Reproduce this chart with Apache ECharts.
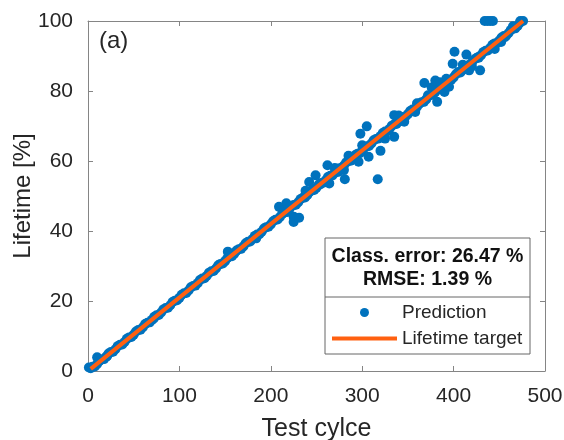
<!DOCTYPE html>
<html>
<head>
<meta charset="utf-8">
<script src="https://cdn.jsdelivr.net/npm/echarts@6/dist/echarts.min.js"></script>
<style>
  html, body { margin: 0; padding: 0; background: #fff; }
  #chart { width: 564px; height: 440px; }
</style>
</head>
<body>
<div id="chart"></div>
<script>
// 测试循环 / 预测寿命 (沿目标线的点)
var cycles = [1, 3, 5, 10, 15, 20, 25, 30, 35, 40, 45, 50, 55, 60, 65, 70, 75, 80, 85, 90, 95,
  100, 105, 110, 115, 120, 125, 130, 135, 140, 145, 150, 155, 160, 165, 170, 175, 180, 185, 190, 195,
  200, 205, 210, 215, 220, 225, 230, 235, 240, 245, 250, 255, 260, 265, 270, 275, 280, 285, 290, 295,
  300, 305, 310, 315, 320, 325, 330, 335, 340, 345, 350, 355, 360, 365, 370, 375, 380, 385, 390, 395,
  400, 405, 410, 415, 420, 425, 430, 435, 440, 445, 450, 455, 460, 465, 470, 473, 476];
var predicted = [1.0, 0.8, 1.2, 2.0, 3.3, 4.1, 5.4, 6.2, 7.5, 8.3, 9.6, 10.4, 11.7, 12.5, 13.8, 14.6, 15.9, 16.7, 18.0, 18.8, 20.1,
  20.9, 22.2, 23.0, 24.3, 25.1, 26.4, 27.2, 28.5, 29.3, 30.6, 31.4, 32.7, 33.5, 34.8, 35.6, 36.9, 37.7, 39.0, 39.8, 41.1,
  41.9, 43.2, 44.0, 45.3, 46.1, 47.4, 48.2, 49.5, 50.3, 51.6, 52.4, 53.7, 54.5, 55.8, 56.6, 57.9, 58.7, 60.0, 60.8, 62.1,
  62.9, 64.2, 65.0, 66.3, 67.1, 68.4, 69.2, 70.5, 71.3, 72.6, 73.4, 74.7, 75.5, 76.8, 77.6, 78.9, 79.7, 81.0, 81.8, 83.1,
  83.9, 85.2, 86.0, 87.3, 88.1, 89.4, 90.2, 91.5, 92.3, 93.6, 94.4, 95.7, 96.5, 97.8, 98.6, 100, 100];

// 中间的点
var midCycles = [7.5, 12.5, 17.5, 22.5, 27.5, 32.5, 37.5, 42.5, 47.5, 52.5, 57.5, 62.5, 67.5, 72.5, 77.5, 82.5, 87.5, 92.5, 97.5,
  102.5, 107.5, 112.5, 117.5, 122.5, 127.5, 132.5, 137.5, 142.5, 147.5, 152.5, 157.5, 162.5, 167.5, 172.5, 177.5, 182.5, 187.5, 192.5, 197.5,
  202.5, 207.5, 212.5, 217.5, 222.5, 227.5, 232.5, 237.5, 242.5, 247.5, 252.5, 257.5, 262.5, 267.5, 272.5, 277.5, 282.5, 287.5, 292.5, 297.5,
  302.5, 307.5, 312.5, 317.5, 322.5, 327.5, 332.5, 337.5, 342.5, 347.5, 352.5, 357.5, 362.5, 367.5, 372.5, 377.5, 382.5, 387.5, 392.5, 397.5,
  402.5, 407.5, 412.5, 417.5, 422.5, 427.5, 432.5, 437.5, 442.5, 447.5, 452.5, 457.5, 462.5, 467.5, 472.5];
var midPredicted = [1.3, 2.9, 3.4, 5.0, 5.5, 7.1, 7.6, 9.2, 9.7, 11.3, 11.8, 13.4, 13.9, 15.5, 16.0, 17.6, 18.1, 19.7, 20.2,
  21.8, 22.3, 23.9, 24.4, 26.0, 26.5, 28.1, 28.6, 30.2, 30.7, 32.3, 32.8, 34.4, 34.9, 36.5, 37.0, 38.6, 39.1, 40.7, 41.2,
  42.8, 43.3, 44.9, 45.4, 47.0, 47.5, 49.1, 49.6, 51.2, 51.7, 53.3, 53.8, 55.4, 55.9, 57.5, 58.0, 59.6, 60.1, 61.7, 62.2,
  63.8, 64.3, 65.9, 66.4, 68.0, 68.5, 70.1, 70.6, 72.2, 72.7, 74.3, 74.8, 76.4, 76.9, 78.5, 79.0, 80.6, 81.1, 82.7, 83.2,
  84.8, 85.3, 86.9, 87.4, 89.0, 89.5, 91.1, 91.6, 93.2, 93.7, 95.3, 95.8, 97.4, 97.9, 99.5];

// 偏离目标线的点
var offCycles = [10, 21, 72, 153, 184, 209, 215, 217, 225, 225, 231, 238, 242, 249, 254, 262, 264, 270, 274, 280,
  281, 285, 296, 298, 300, 305, 307, 317, 320, 325, 335, 335, 340, 346, 358, 360, 368, 372, 376, 380,
  382, 385, 390, 392, 395, 399, 401, 405, 410, 414, 417, 420, 427, 429, 434, 437, 440, 443, 445, 452, 456, 465];
var offPredicted = [3.9, 4.3, 15.0, 34.1, 37.9, 46.9, 46.0, 47.9, 44.1, 42.6, 43.8, 51.5, 54.0, 55.9, 53.3, 58.8, 53.6, 58.0, 56.9, 57.4,
  54.8, 61.5, 59.8, 67.8, 64.5, 69.9, 61.2, 54.8, 62.9, 66.4, 73.1, 66.9, 73.0, 71.2, 74.0, 76.5, 82.3, 78.8, 81.0, 83.0,
  76.9, 82.5, 79.7, 83.5, 81.2, 87.8, 91.2, 85.4, 87.5, 90.4, 85.9, 87.0, 89.7, 85.9, 100, 100, 100, 100, 92.0, 94.0, 95.4, 98.5];

// 寿命目标线
var targetCycles = [3, 476];
var targetLifetime = [0.6, 100];

var xTicks = { min: 0, max: 500, interval: 100 };
var yTicks = { min: 0, max: 100, interval: 20 };

function pairs(xs, ys) {
  return xs.map(function (c, i) { return [c, ys[i]]; });
}
var predPoints = pairs(cycles, predicted)
  .concat(pairs(midCycles, midPredicted))
  .concat(pairs(offCycles, offPredicted));
var targetPoints = pairs(targetCycles, targetLifetime);

var font = "Liberation Sans, Arial, sans-serif";
var axisGray = "#858585";
var textDark = "#262626";
var blue = "#0072BD";
var orange = "#FF6010";

function boxAxis(opt, pos, labels) {
  return Object.assign({
    type: "value",
    position: pos,
    splitLine: { show: false },
    axisLine: { show: true, onZero: false, lineStyle: { color: axisGray, width: 1 } },
    axisTick: { show: true, inside: true, length: 5, lineStyle: { color: axisGray } },
    axisLabel: { show: labels, color: textDark, fontFamily: font, fontSize: 21, margin: 15 }
  }, opt);
}

var chart = echarts.init(document.getElementById("chart"));
var option = {
  animation: false,
  grid: { left: 88, right: 19, top: 21, bottom: 69, containLabel: false, outerBoundsMode: "none" },
  xAxis: [
    boxAxis(Object.assign({
      name: "Test cylce", nameLocation: "middle", nameGap: 46,
      nameTextStyle: { color: textDark, fontFamily: font, fontSize: 25 }
    }, xTicks), "bottom", true),
    boxAxis(Object.assign({}, xTicks), "top", false)
  ],
  yAxis: [
    boxAxis(Object.assign({
      name: "Lifetime [%]", nameLocation: "middle", nameGap: 53, nameMoveOverlap: false,
      nameTextStyle: { color: textDark, fontFamily: font, fontSize: 24 }
    }, yTicks), "left", true),
    boxAxis(Object.assign({}, yTicks), "right", false)
  ],
  legend: {
    orient: "vertical",
    left: 330,
    top: 303,
    padding: 0,
    z: 6,
    itemWidth: 65,
    itemHeight: 9,
    itemGap: 7,
    textStyle: { color: textDark, fontFamily: font, fontSize: 19 },
    data: [
      { name: "Prediction" },
      {
        name: "Lifetime target",
        itemStyle: { color: "rgba(0,0,0,0)", opacity: 0, borderWidth: 0 },
        lineStyle: { color: orange, width: 4 }
      }
    ]
  },
  graphic: [
    { type: "rect", z: 4, shape: { x: 325, y: 238, width: 205, height: 116 },
      style: { fill: "#fff", stroke: "#666", lineWidth: 1 } },
    { type: "line", z: 5, shape: { x1: 325, y1: 297, x2: 530, y2: 297 },
      style: { stroke: "#666", lineWidth: 1 } },
    { type: "text", z: 5, x: 427.5, y: 257,
      style: { text: "Class. error: 26.47 %", fill: "#111", font: "bold 19.5px " + font,
        textAlign: "center", textVerticalAlign: "middle" } },
    { type: "text", z: 5, x: 427.5, y: 280,
      style: { text: "RMSE: 1.39 %", fill: "#111", font: "bold 19.5px " + font,
        textAlign: "center", textVerticalAlign: "middle" } },
    { type: "text", z: 5, left: 99, top: 29,
      style: { text: "(a)", fill: textDark, font: "24px " + font } }
  ],
  series: [
    {
      name: "Prediction",
      type: "scatter",
      data: predPoints,
      symbol: "circle",
      symbolSize: 10,
      itemStyle: { color: blue, opacity: 1 },
      z: 2
    },
    {
      name: "Lifetime target",
      type: "line",
      data: targetPoints,
      symbol: "none",
      lineStyle: { color: orange, width: 4 },
      itemStyle: { color: orange },
      z: 3
    }
  ]
};
chart.setOption(option);
</script>
</body>
</html>
